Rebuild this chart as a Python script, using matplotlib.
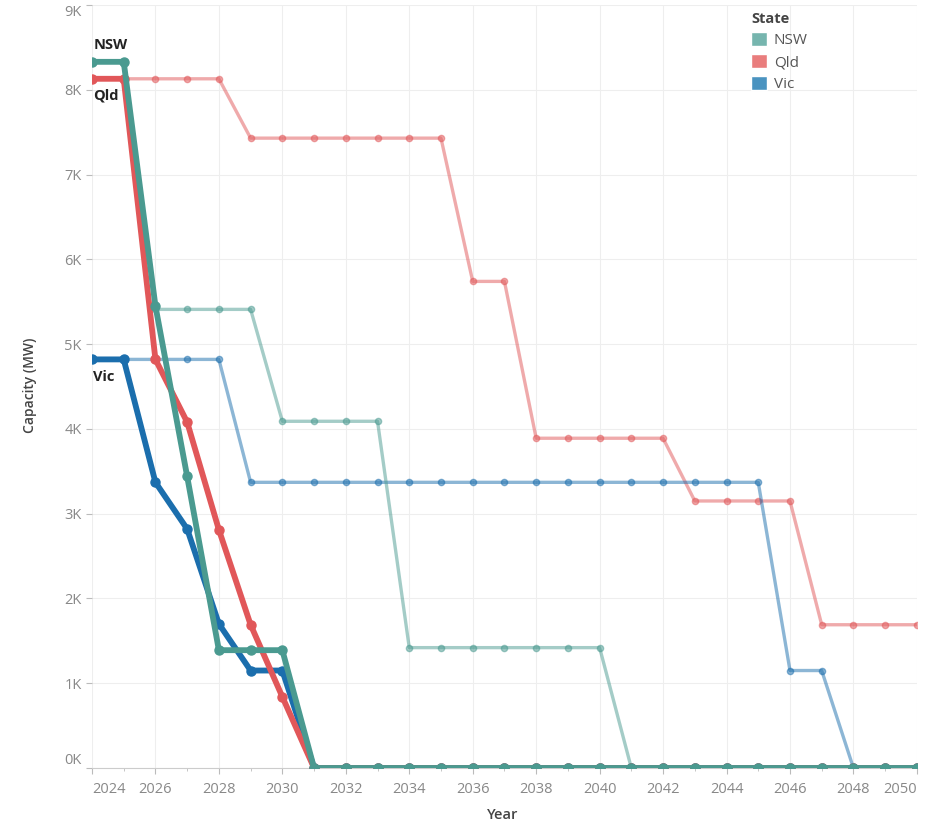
import numpy as np
import matplotlib.pyplot as plt
from matplotlib.patches import Patch

plt.rcParams['font.family'] = ['Open Sans', 'DejaVu Sans']

years = np.arange(2024, 2051)

# highlighted (thick) scenario, MW
nsw_main = [8330, 8330, 5450, 3440, 1390, 1390, 1390] + [0] * 20
qld_main = [8130, 8130, 4820, 4080, 2810, 1690, 840] + [0] * 20
vic_main = [4820, 4820, 3370, 2820, 1700, 1150, 1150] + [0] * 20

# background (faded) scenario, MW
nsw_alt = [8330, 8330, 5410, 5410, 5410, 5410, 4090, 4090, 4090, 4090,
           1420, 1420, 1420, 1420, 1420, 1420, 1420] + [0] * 10
qld_alt = [8130, 8130, 8130, 8130, 8130, 7430, 7430, 7430, 7430, 7430,
           7430, 7430, 5740, 5740, 3890, 3890, 3890, 3890, 3890, 3150,
           3150, 3150, 3150, 1690, 1690, 1690, 1690]
vic_alt = [4820, 4820, 4820, 4820, 4820] + [3370] * 17 + [1150, 1150, 0, 0, 0]

states = ['NSW', 'Qld', 'Vic']
colors = {'NSW': '#4a9a90', 'Qld': '#e15759', 'Vic': '#1b6ead'}
legend_colors = {'NSW': '#76b5ae', 'Qld': '#e97d7d', 'Vic': '#4a93c0'}

fig = plt.figure(figsize=(9.3, 8.26), dpi=100)
ax = fig.add_axes([0.0989, 0.0702, 0.887, 0.9237])

# faded lines behind
for name, vals in [('Qld', qld_alt), ('Vic', vic_alt), ('NSW', nsw_alt)]:
    ax.plot(years, vals, color=colors[name], alpha=0.5, lw=2.4,
            marker='o', ms=4.5, zorder=2)

# thick lines on top
for name, vals in [('Vic', vic_main), ('Qld', qld_main), ('NSW', nsw_main)]:
    ax.plot(years, vals, color=colors[name], lw=4.2,
            marker='o', ms=6.5, zorder=3, solid_joinstyle='round')

# line start labels
label_pts = [('NSW', nsw_main[0], 12), ('Qld', qld_main[0], -12), ('Vic', vic_main[0], -13)]
for name, v, dy in label_pts:
    ax.annotate(name, xy=(years[0], v), xytext=(1, dy), textcoords='offset points',
                ha='left', va='center', fontsize=10.5, fontweight='bold',
                color='#222222', zorder=5)

ax.set_xlim(2024, 2050)
ax.set_ylim(0, 9000)

xt = np.arange(2024, 2051, 2)
ax.set_xticks(xt)
ax.set_xticklabels([str(y) for y in xt])
ax.set_xticks(np.arange(2025, 2051, 2), minor=True)
xlabs = ax.get_xticklabels()
xlabs[0].set_horizontalalignment('left')
xlabs[-1].set_horizontalalignment('right')

yt = np.arange(0, 9001, 1000)
ax.set_yticks(yt)
ax.set_yticklabels([f'{int(v / 1000)}K' for v in yt])
ylabs = ax.get_yticklabels()
ylabs[0].set_verticalalignment('bottom')
ylabs[-1].set_verticalalignment('top')

ax.tick_params(axis='both', colors='#bbbbbb', labelcolor='#888888', labelsize=10.5,
               length=4, width=0.8)
ax.tick_params(axis='x', which='minor', length=2, colors='#bbbbbb')
ax.tick_params(axis='x', pad=6)

ax.grid(True, color='#eeeeee', lw=0.8, zorder=0)
for s in ['top', 'right', 'left']:
    ax.spines[s].set_visible(False)
ax.spines['bottom'].set_color('#cccccc')
ax.set_axisbelow(True)

fig.text(30 / 930, 1 - 385 / 826, 'Capacity (MW)', rotation=90, ha='center', va='center',
         fontsize=10, fontweight='semibold', color='#444444')
fig.text(503 / 930, 1 - 815 / 826, 'Year', ha='center', va='center',
         fontsize=10.5, fontweight='semibold', color='#444444')

handles = [Patch(facecolor=legend_colors[s], edgecolor='white', label=s) for s in states]
leg = fig.legend(handles=handles, title='State', loc='upper left',
                 bbox_to_anchor=(748 / 930, 1 - 9 / 826), frameon=False,
                 fontsize=11, handlelength=1.05, handleheight=1.05,
                 handletextpad=0.45, labelspacing=0.38, borderaxespad=0,
                 borderpad=0.2, alignment='left')
leg.get_title().set_fontweight('bold')
leg.get_title().set_color('#444444')
leg.get_title().set_fontsize(10.5)
for t in leg.get_texts():
    t.set_color('#555555')

fig.savefig('out.png', dpi=100)
